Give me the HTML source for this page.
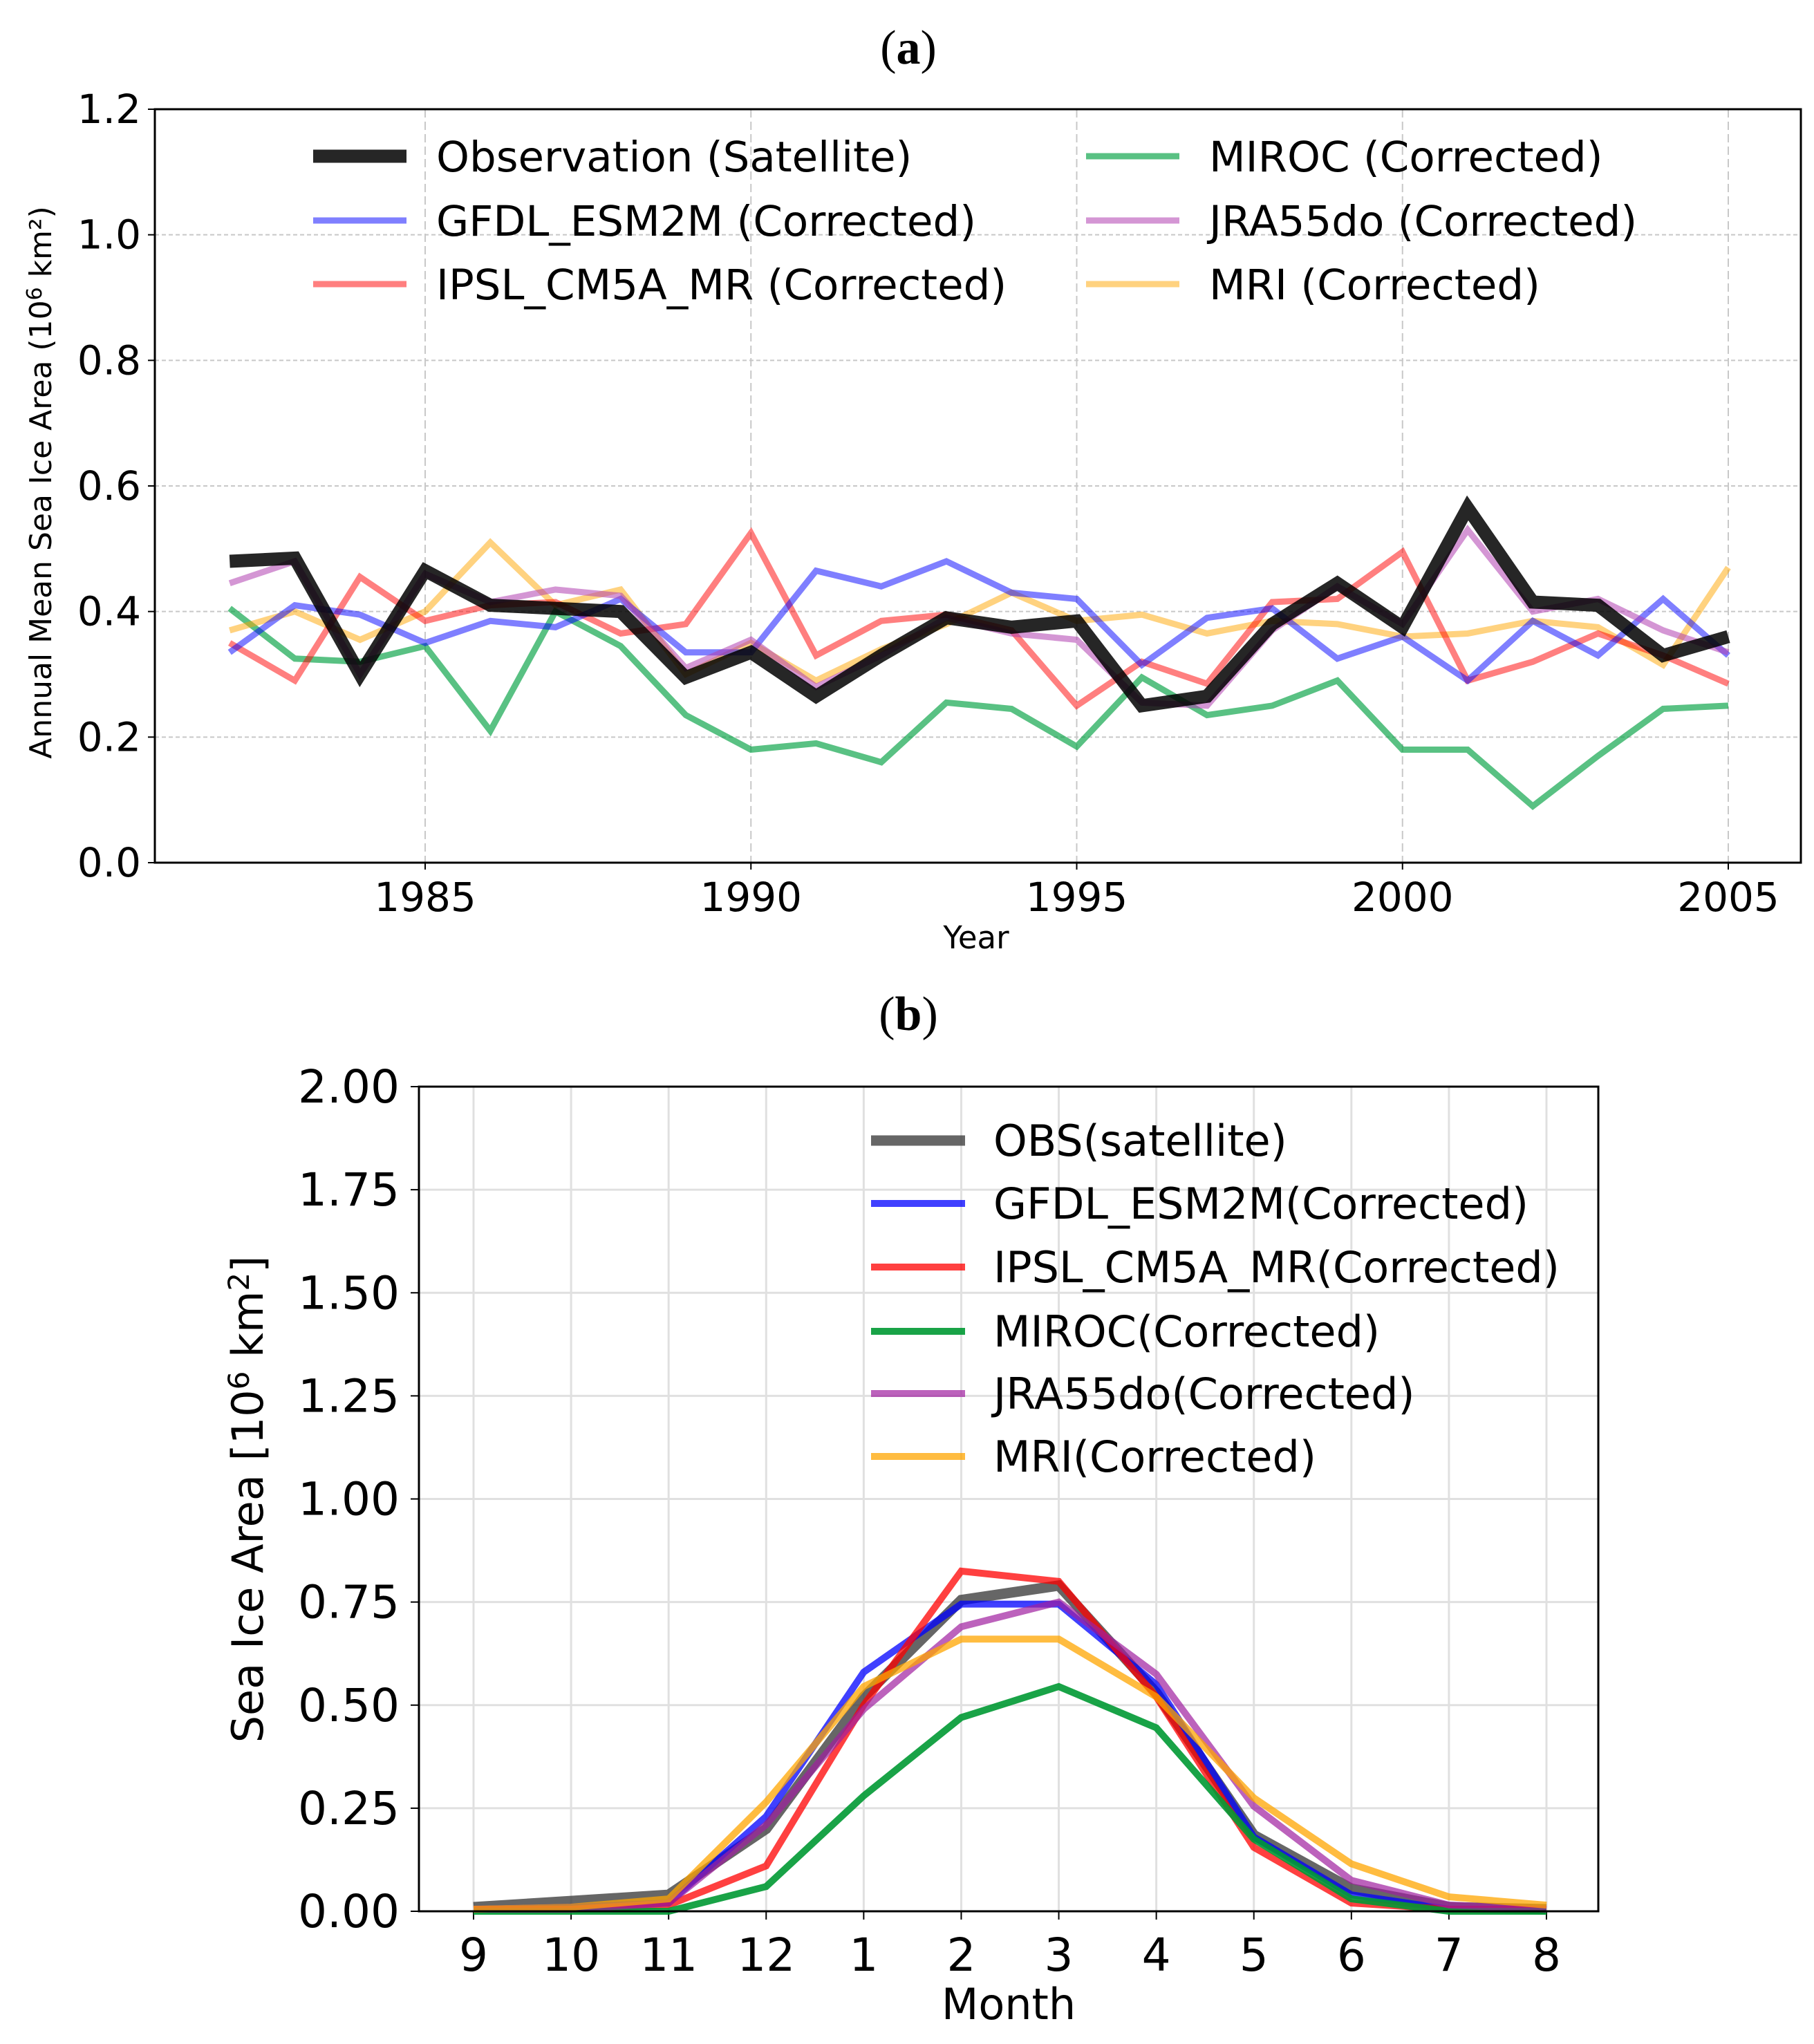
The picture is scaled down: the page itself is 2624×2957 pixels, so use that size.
<!DOCTYPE html>
<html><head><meta charset="utf-8"><style>
html,body{margin:0;padding:0;background:#fff}
svg{display:block}
text{font-family:"DejaVu Sans","Liberation Sans",sans-serif;fill:#000}
</style></head><body>
<svg id="fig" width="2624" height="2957" viewBox="0 0 2624 2957" xmlns="http://www.w3.org/2000/svg">
<text x="1314" y="92" text-anchor="middle" style="font-family:'Liberation Serif',serif;font-size:70px">(<tspan font-weight="bold">a</tspan>)</text>
<text x="1314" y="1490" text-anchor="middle" style="font-family:'Liberation Serif',serif;font-size:70px">(<tspan font-weight="bold">b</tspan>)</text>
<g id="pa"></g>
<g id="pb"></g>
</svg>
<script>
const years=[1982,1983,1984,1985,1986,1987,1988,1989,1990,1991,1992,1993,1994,1995,1996,1997,1998,1999,2000,2001,2002,2003,2004,2005];
const obsA=[.48,.485,.30,.465,.41,.405,.40,.295,.335,.265,.33,.39,.375,.385,.25,.265,.38,.445,.375,.565,.415,.41,.33,.36];
const gfdlA=[.335,.41,.395,.35,.385,.375,.42,.335,.335,.465,.44,.48,.43,.42,.315,.39,.405,.325,.36,.29,.385,.33,.42,.33];
const ipslA=[.35,.29,.455,.385,.41,.415,.365,.38,.525,.33,.385,.395,.37,.25,.32,.285,.415,.42,.495,.29,.32,.365,.33,.285];
const mirocA=[.405,.325,.32,.345,.21,.40,.345,.235,.18,.19,.16,.255,.245,.185,.295,.235,.25,.29,.18,.18,.09,.17,.245,.25];
const jraA=[.445,.48,.30,.46,.415,.435,.425,.31,.355,.28,.33,.39,.365,.355,.255,.25,.37,.44,.38,.53,.40,.42,.37,.335];
const mriA=[.37,.40,.355,.40,.51,.41,.435,.30,.35,.29,.34,.38,.43,.385,.395,.365,.385,.38,.36,.365,.385,.375,.315,.47];
const yTicksA=[0,0.2,0.4,0.6,0.8,1.0,1.2];
const xTicksA=[1985,1990,1995,2000,2005];

const months=["9","10","11","12","1","2","3","4","5","6","7","8"];
const obsB=[.01,.025,.04,.20,.52,.755,.79,.53,.185,.055,.01,.005];
const gfdlB=[.005,.01,.02,.23,.58,.745,.745,.55,.18,.04,.005,.005];
const ipslB=[.005,.005,.015,.11,.50,.825,.80,.52,.155,.02,.005,.005];
const mirocB=[0,0,0,.06,.28,.47,.545,.445,.175,.03,0,0];
const jraB=[.005,.005,.02,.21,.49,.69,.75,.575,.255,.075,.015,.005];
const mriB=[.005,.01,.03,.265,.545,.66,.66,.52,.275,.115,.035,.015];
const yTicksB=[0,0.25,0.5,0.75,1.0,1.25,1.5,1.75,2.0];

const NS="http://www.w3.org/2000/svg";
function mk(p,t,a,txt){const e=document.createElementNS(NS,t);for(const k in a)e.setAttribute(k,a[k]);if(txt!==undefined)e.textContent=txt;p.appendChild(e);return e;}

// Panel A
const pa=document.getElementById('pa');
const AL=224,AR=2605,AT=158,AB=1248;
const xA=v=>615+(v-1985)*(2500-615)/20;
const yA=v=>AB-v*(AB-AT)/1.2;
yTicksA.forEach(t=>{
 const g=mk(pa,'line',{x1:AL,x2:AR,y1:yA(t),y2:yA(t),stroke:'#c8c8c8','stroke-width':2,'stroke-dasharray':'6,4'});
 
 
 mk(pa,'line',{x1:AL-10,x2:AL,y1:yA(t),y2:yA(t),stroke:'#000','stroke-width':2});
 const l=mk(pa,'text',{x:AL-20,y:yA(t)+20,'text-anchor':'end','font-size':58},t.toFixed(1));
 
 
});
xTicksA.forEach(t=>{
 const g=mk(pa,'line',{x1:xA(t),x2:xA(t),y1:AT,y2:AB,stroke:'#c8c8c8','stroke-width':2,'stroke-dasharray':'12,6'});
 
 
 mk(pa,'line',{x1:xA(t),x2:xA(t),y1:AB,y2:AB+10,stroke:'#000','stroke-width':2});
 const l=mk(pa,'text',{x:xA(t),y:AB+70,'text-anchor':'middle','font-size':58},t);
 
 
});
const seriesA=[
 ['miroc',mirocA,'#00a040',.65,9],['mri',mriA,'#ffa500',.5,9],['ipsl',ipslA,'#ff0000',.5,9],
 ['gfdl',gfdlA,'#0000ff',.5,9],['jra',jraA,'#b040b0',.55,9],['obs',obsA,'#000',.85,19]];
seriesA.forEach(([n,d,c,o,w])=>{
 const p=mk(pa,'polyline',{points:d.map((v,i)=>xA(years[i])+','+yA(v)).join(' '),fill:'none',stroke:c,'stroke-opacity':o,'stroke-width':w,'stroke-linejoin':'miter'});
 
 
});
mk(pa,'rect',{x:AL,y:AT,width:AR-AL,height:AB-AT,fill:'none',stroke:'#000','stroke-width':3});
const xla=mk(pa,'text',{x:1412,y:1372,'text-anchor':'middle','font-size':45},'Year');


const yla=mk(pa,'text',{x:0,y:0,'text-anchor':'middle','font-size':44,transform:'translate(74,698) rotate(-90)'});
yla.innerHTML='Annual Mean Sea Ice Area (10<tspan dy="-14" font-size="30">6</tspan><tspan dy="14"> km²)</tspan>';


const legA=[['Observation (Satellite)','#000',.85,19,453,226],['GFDL_ESM2M (Corrected)','#0000ff',.5,9,453,319],['IPSL_CM5A_MR (Corrected)','#ff0000',.5,9,453,411],
['MIROC (Corrected)','#00a040',.65,9,1571,226],['JRA55do (Corrected)','#b040b0',.55,9,1571,319],['MRI (Corrected)','#ffa500',.5,9,1571,411]];
legA.forEach(([t,c,o,w,x,y])=>{
 const g=mk(pa,'g',{});
 
 
 mk(g,'line',{x1:x,x2:x+135,y1:y,y2:y,stroke:c,'stroke-opacity':o,'stroke-width':w});
 mk(g,'text',{x:x+178,y:y+22,'font-size':61},t);
});

// Panel B
const pb=document.getElementById('pb');
const BL=606,BR=2312,BT=1572,BB=2765;
const xB=i=>685+i*(2237-685)/11;
const yB=v=>BB-v*(BB-BT)/2;
yTicksB.forEach(t=>{
 const g=mk(pb,'line',{x1:BL,x2:BR,y1:yB(t),y2:yB(t),stroke:'#e0e0e0','stroke-width':3});
 
 
 mk(pb,'line',{x1:BL-12,x2:BL,y1:yB(t),y2:yB(t),stroke:'#000','stroke-width':2});
 const l=mk(pb,'text',{x:BL-28,y:yB(t)+23,'text-anchor':'end','font-size':66},t.toFixed(2));
 
 
});
months.forEach((m,i)=>{
 const g=mk(pb,'line',{x1:xB(i),x2:xB(i),y1:BT,y2:BB,stroke:'#e0e0e0','stroke-width':3});
 
 
 mk(pb,'line',{x1:xB(i),x2:xB(i),y1:BB,y2:BB+12,stroke:'#000','stroke-width':2});
 const l=mk(pb,'text',{x:xB(i),y:BB+86,'text-anchor':'middle','font-size':66},m);
 
 
});
const seriesB=[['obs',obsB,'#404040',.8,15],['gfdl',gfdlB,'#0000ff',.75,10],['ipsl',ipslB,'#ff0000',.75,10],
 ['miroc',mirocB,'#009933',.9,10],['jra',jraB,'#a020a0',.7,10],['mri',mriB,'#ffa500',.75,10]];
seriesB.forEach(([n,d,c,o,w])=>{
 const p=mk(pb,'polyline',{points:d.map((v,i)=>xB(i)+','+yB(v)).join(' '),fill:'none',stroke:c,'stroke-opacity':o,'stroke-width':w});
 
 
});
mk(pb,'rect',{x:BL,y:BT,width:BR-BL,height:BB-BT,fill:'none',stroke:'#000','stroke-width':3});
const xlb=mk(pb,'text',{x:1459,y:2921,'text-anchor':'middle','font-size':62},'Month');


const ylb=mk(pb,'text',{x:0,y:0,'text-anchor':'middle','font-size':62,transform:'translate(380,2169) rotate(-90)'});
ylb.innerHTML='Sea Ice Area [10<tspan dy="-20" font-size="42">6</tspan><tspan dy="20"> km</tspan><tspan dy="-20" font-size="42">2</tspan><tspan dy="20">]</tspan>';


const legB=[['OBS(satellite)','#404040',.8,15,1650],['GFDL_ESM2M(Corrected)','#0000ff',.75,10,1741],['IPSL_CM5A_MR(Corrected)','#ff0000',.75,10,1833],
['MIROC(Corrected)','#009933',.9,10,1926],['JRA55do(Corrected)','#a020a0',.7,10,2016],['MRI(Corrected)','#ffa500',.75,10,2107]];
legB.forEach(([t,c,o,w,y])=>{
 const g=mk(pb,'g',{});
 
 
 mk(g,'line',{x1:1260,x2:1396,y1:y,y2:y,stroke:c,'stroke-opacity':o,'stroke-width':w});
 mk(g,'text',{x:1437,y:y+22,'font-size':62},t);
});
</script>
</body></html>
